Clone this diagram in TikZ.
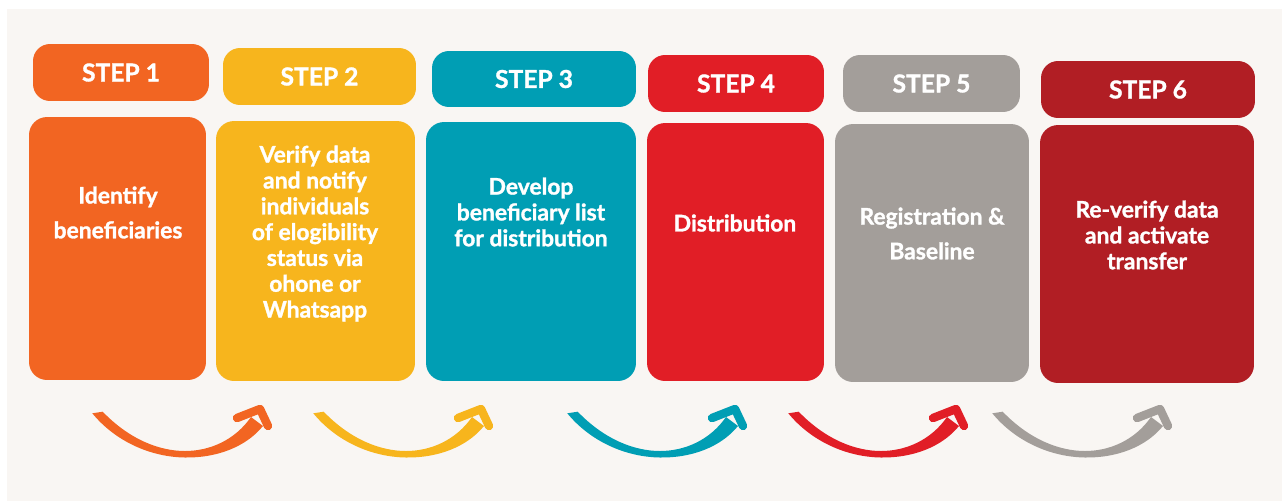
\documentclass[tikz,border=0pt]{standalone}
\usepackage{fontspec}
\setmainfont{Lato}[BoldFeatures={FakeBold=1.3}]
\begin{document}
\definecolor{paper}{HTML}{F9F6F3}
\definecolor{cOrange}{HTML}{F26522}
\definecolor{cYellow}{HTML}{F7B51D}
\definecolor{cTeal}{HTML}{009EB4}
\definecolor{cRed}{HTML}{E11E26}
\definecolor{cGrey}{HTML}{A39E9A}
\definecolor{cDark}{HTML}{B11E24}
\begin{tikzpicture}[x=0.02cm,y=-0.02cm,
  header/.style={rounded corners=0.34cm, inner sep=0pt, text=white,
    font=\fontsize{14}{16}\selectfont\bfseries},
  body/.style={rounded corners=0.36cm, inner sep=0pt},
  label/.style={text=white, align=center, inner sep=0pt,
    font=\fontsize{13}{14.7}\selectfont\bfseries},
  widelabel/.style={label, font=\fontsize{13}{19.8}\selectfont\bfseries},
  chevron/.style={line width=4.8pt, line cap=round, line join=round}]
% page and panel
\fill[white] (0,0) rectangle (1282,501);
\fill[paper] (7,9) rectangle (1282,501);
\useasboundingbox (0,0) rectangle (1282,501);

% step headers
\node[header, fill=cOrange, minimum width=3.52cm, minimum height=1.14cm] (h1) at (121,72.5) {STEP 1};
\node[header, fill=cYellow, minimum width=3.86cm, minimum height=1.14cm] (h2) at (319.5,76.5) {STEP 2};
\node[header, fill=cTeal,   minimum width=4.08cm, minimum height=1.12cm] (h3) at (534,79) {STEP 3};
\node[header, fill=cRed,    minimum width=3.52cm, minimum height=1.14cm] (h4) at (736,83.5) {STEP 4};
\node[header, fill=cGrey,   minimum width=3.54cm, minimum height=1.14cm] (h5) at (931.5,83.5) {STEP 5};
\node[header, fill=cDark,   minimum width=4.28cm, minimum height=1.14cm] (h6) at (1148,89.5) {STEP 6};

% step bodies
\node[body, fill=cOrange, minimum width=3.54cm, minimum height=5.26cm] (b1) at (117.5,248.5) {};
\node[body, fill=cYellow, minimum width=3.98cm, minimum height=5.20cm] (b2) at (315.5,251) {};
\node[body, fill=cTeal,   minimum width=4.20cm, minimum height=5.18cm] (b3) at (531,251.5) {};
\node[body, fill=cRed,    minimum width=3.54cm, minimum height=5.16cm] (b4) at (735.5,252) {};
\node[body, fill=cGrey,   minimum width=3.88cm, minimum height=5.16cm] (b5) at (932,253) {};
\node[body, fill=cDark,   minimum width=4.28cm, minimum height=5.16cm] (b6) at (1147,254) {};

% step texts
\node[widelabel] (t1) at (118,212.5) {Identify\\beneficiaries};
\node[label] (t2) at (315,233.5) {Verify data\\and notify\\individuals\\of elogibility\\status via\\ohone or\\Whatsapp};
\node[label] (t3) at (531,212) {Develop\\beneficiary list\\for distribution};
\node[label] (t4) at (735,223) {Distribution};
\node[widelabel] (t5) at (932,233.5) {Registration \&\\Baseline};
\node[label] (t6) at (1147,235) {Re-verify data\\and activate\\transfer};

% swoosh arrows between the steps: tapering body plus a rounded chevron head
\foreach \dx/\col in {0/cOrange, 221/cYellow, 475/cTeal, 696/cRed, 900/cGrey}{
  \begin{scope}[shift={(\dx,0)}]
    \fill[\col] (102.7,411.7) .. controls (130,440) and (160,451) .. (185,451)
      .. controls (210,451) and (235,440) .. (251,417) -- (263,426)
      .. controls (245,448) and (215,458) .. (185,457.5)
      .. controls (150,457) and (115,441) .. (92.3,413.3) -- cycle;
    \draw[chevron, \col] (237,418) -- (260,409) -- (268,426);
  \end{scope}
}
\end{tikzpicture}
\end{document}
